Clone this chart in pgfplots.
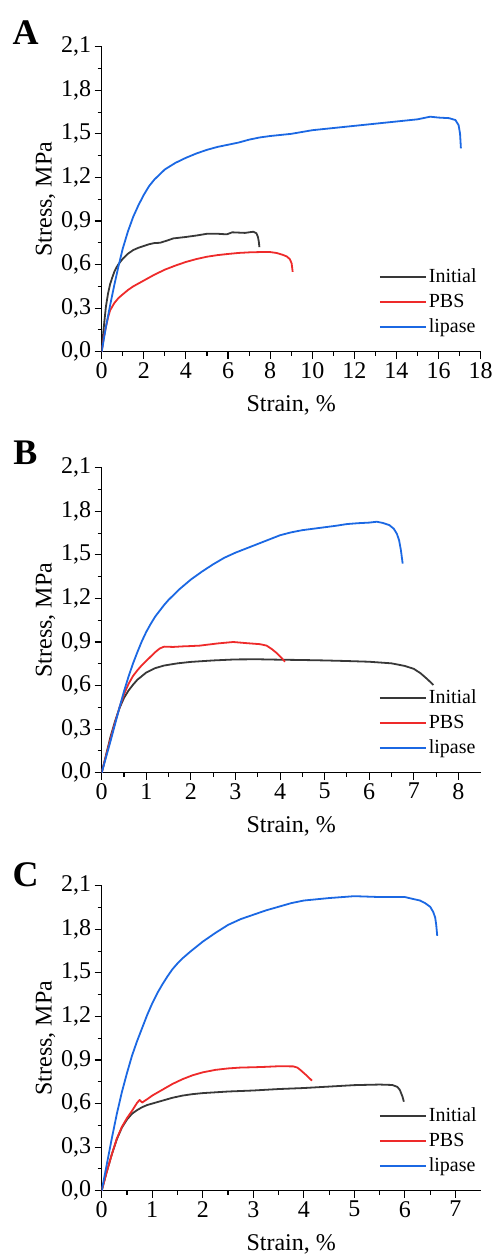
\documentclass[border=0pt]{standalone}
\usepackage{fontspec}
\setmainfont{Liberation Serif}
\usepackage{pgfplots}
\pgfplotsset{compat=1.18}
\definecolor{cInit}{HTML}{383838}
\definecolor{cPBS}{HTML}{EE2A2A}
\definecolor{cLip}{HTML}{1B68E3}
\pgfplotsset{
  panel/.style={
    scale only axis, width=379pt, height=305pt,
    anchor=south west,
    axis x line*=bottom, axis y line*=left,
    axis line style={line width=1.3pt, black},
    enlargelimits=false,
    ymin=0, ymax=2.1, ytick={0,0.3,...,2.1},
    minor y tick num=1, minor x tick num=1,
    tick align=outside,
    major tick length=7pt, minor tick length=4pt,
    every tick/.style={black, line width=1.1pt},
    tick label style={font=\fontsize{24}{28}\selectfont},
    label style={font=\fontsize{24}{28}\selectfont},
    xlabel style={yshift=-10pt},
    ylabel style={yshift=-1pt},
    /pgf/number format/assume math mode=true,
    yticklabel style={/pgf/number format/.cd, use comma, fixed, fixed zerofill, precision=1},
    xticklabel style={/pgf/number format/.cd, fixed, precision=0},
    xlabel={Strain, \%}, ylabel={Stress, MPa},
    legend style={draw=none, fill=none, at={(axis description cs:1.003,0.035)}, anchor=south east,
      font=\fontsize{20}{24}\selectfont,
      nodes={text height=15pt, text depth=4pt, inner sep=2pt},
      row sep=2pt},
    legend cell align=left,
    legend image code/.code={\draw[#1] (0pt,0pt) -- (46pt,0pt);},
    every axis plot/.append style={line width=1.8pt, line join=round},
  }
}
\begin{document}
\begin{tikzpicture}
\path[use as bounding box] (0,0) rectangle (496pt,-1255pt);
\node[font=\bfseries\fontsize{36}{40}\selectfont] at (25.5pt,-33pt) {A};
\node[font=\bfseries\fontsize{36}{40}\selectfont] at (25.5pt,-453pt) {B};
\node[font=\bfseries\fontsize{36}{40}\selectfont] at (25.5pt,-875pt) {C};
% Panel A
\begin{axis}[panel, at={(101.7pt,-351.7pt)}, xmin=0, xmax=18, xtick={0,2,...,18}]
\addplot[cInit] coordinates {(0,0) (0.05,0.09) (0.1,0.17) (0.2,0.31) (0.3,0.4) (0.4,0.465) (0.5,0.51) (0.6,0.55) (0.7,0.58) (0.8,0.603) (1.0,0.64) (1.25,0.675) (1.5,0.70) (1.75,0.716) (2.0,0.728) (2.25,0.74) (2.5,0.748) (2.77,0.75) (3.1,0.765) (3.4,0.78) (4.0,0.79) (4.5,0.80) (5.0,0.812) (5.5,0.812) (5.94,0.808) (6.2,0.822) (6.5,0.82) (6.8,0.818) (7.2,0.826) (7.35,0.815) (7.42,0.79) (7.46,0.76) (7.49,0.72)};
\addlegendentry{Initial}
\addplot[cPBS] coordinates {(0,0) (0.1,0.1) (0.2,0.17) (0.3,0.235) (0.4,0.285) (0.6,0.335) (0.8,0.37) (1.0,0.395) (1.25,0.425) (1.5,0.45) (2.0,0.49) (2.5,0.53) (3.0,0.565) (3.5,0.593) (4.0,0.618) (4.5,0.638) (5.0,0.654) (5.5,0.665) (6.0,0.673) (6.5,0.68) (7.0,0.684) (7.5,0.686) (8.0,0.686) (8.3,0.68) (8.6,0.667) (8.8,0.655) (8.94,0.636) (9.02,0.608) (9.07,0.55)};
\addlegendentry{PBS}
\addplot[cLip] coordinates {(0,0) (0.2,0.17) (0.4,0.32) (0.6,0.46) (0.8,0.59) (1.0,0.71) (1.25,0.83) (1.5,0.93) (1.75,1.01) (2.0,1.08) (2.25,1.14) (2.5,1.185) (2.75,1.22) (3.0,1.255) (3.5,1.30) (4.0,1.335) (4.5,1.365) (5.0,1.39) (5.5,1.41) (6.0,1.425) (6.5,1.44) (7.0,1.46) (7.5,1.475) (8.0,1.485) (9.0,1.50) (10.0,1.525) (11.0,1.54) (12.0,1.555) (13.0,1.57) (14.0,1.585) (15.0,1.60) (15.6,1.618) (16.0,1.612) (16.5,1.608) (16.8,1.595) (16.95,1.56) (17.02,1.50) (17.06,1.40)};
\addlegendentry{lipase}
\end{axis}
% Panel B
\begin{axis}[panel, at={(101.7pt,-772.7pt)}, xmin=0, xmax=8.5, xtick={0,1,...,8}]
\addplot[cInit] coordinates {(0,0) (0.1,0.125) (0.2,0.25) (0.3,0.355) (0.4,0.445) (0.5,0.515) (0.6,0.565) (0.7,0.605) (0.8,0.64) (0.9,0.665) (1.0,0.69) (1.2,0.72) (1.4,0.738) (1.7,0.753) (2.0,0.763) (2.5,0.773) (3.0,0.78) (3.5,0.781) (4.0,0.778) (4.5,0.776) (5.0,0.773) (5.5,0.769) (6.0,0.764) (6.5,0.753) (6.8,0.735) (7.0,0.715) (7.15,0.685) (7.3,0.645) (7.44,0.604)};
\addlegendentry{Initial}
\addplot[cPBS] coordinates {(0,0) (0.1,0.12) (0.2,0.235) (0.3,0.345) (0.4,0.45) (0.5,0.54) (0.6,0.61) (0.7,0.665) (0.8,0.705) (0.9,0.74) (1.0,0.77) (1.1,0.80) (1.2,0.83) (1.3,0.855) (1.4,0.868) (1.6,0.866) (1.83,0.87) (2.0,0.872) (2.2,0.875) (2.6,0.89) (2.95,0.90) (3.25,0.892) (3.55,0.885) (3.7,0.875) (3.82,0.85) (3.92,0.825) (4.02,0.795) (4.11,0.764)};
\addlegendentry{PBS}
\addplot[cLip] coordinates {(0,0) (0.1,0.11) (0.2,0.22) (0.3,0.335) (0.4,0.45) (0.5,0.56) (0.6,0.66) (0.7,0.75) (0.8,0.83) (0.9,0.905) (1.0,0.97) (1.1,1.025) (1.2,1.075) (1.3,1.115) (1.4,1.155) (1.5,1.19) (1.75,1.265) (2.0,1.33) (2.25,1.385) (2.5,1.435) (2.75,1.48) (3.0,1.515) (3.25,1.545) (3.5,1.575) (3.75,1.605) (4.0,1.635) (4.25,1.655) (4.5,1.67) (4.75,1.68) (5.0,1.69) (5.25,1.70) (5.5,1.712) (5.75,1.718) (6.0,1.722) (6.17,1.728) (6.3,1.72) (6.45,1.705) (6.55,1.68) (6.62,1.645) (6.67,1.60) (6.71,1.533) (6.75,1.44)};
\addlegendentry{lipase}
\end{axis}
% Panel C
\begin{axis}[panel, at={(101.7pt,-1190.7pt)}, xmin=0, xmax=7.5, xtick={0,1,...,7}]
\addplot[cInit] coordinates {(0,0) (0.1,0.13) (0.2,0.25) (0.3,0.355) (0.4,0.435) (0.5,0.49) (0.6,0.53) (0.7,0.555) (0.8,0.575) (0.9,0.59) (1.0,0.60) (1.2,0.62) (1.4,0.64) (1.6,0.655) (1.8,0.665) (2.0,0.672) (2.5,0.683) (3.0,0.69) (3.5,0.70) (4.0,0.707) (4.5,0.717) (5.0,0.727) (5.5,0.731) (5.75,0.728) (5.85,0.715) (5.9,0.694) (5.95,0.65) (5.98,0.613)};
\addlegendentry{Initial}
\addplot[cPBS] coordinates {(0,0) (0.1,0.13) (0.2,0.25) (0.3,0.36) (0.4,0.44) (0.5,0.50) (0.6,0.55) (0.7,0.605) (0.75,0.625) (0.8,0.607) (0.9,0.63) (1.0,0.655) (1.2,0.695) (1.4,0.735) (1.6,0.768) (1.8,0.795) (2.0,0.815) (2.25,0.832) (2.5,0.842) (2.75,0.848) (3.0,0.85) (3.25,0.853) (3.5,0.857) (3.79,0.856) (3.87,0.848) (3.93,0.832) (4.05,0.795) (4.16,0.758)};
\addlegendentry{PBS}
\addplot[cLip] coordinates {(0,0) (0.1,0.18) (0.2,0.36) (0.3,0.53) (0.4,0.68) (0.5,0.81) (0.6,0.93) (0.7,1.03) (0.8,1.12) (0.9,1.21) (1.0,1.29) (1.1,1.36) (1.2,1.42) (1.3,1.475) (1.4,1.525) (1.5,1.565) (1.6,1.60) (1.75,1.645) (2.0,1.715) (2.25,1.775) (2.5,1.83) (2.75,1.87) (3.0,1.90) (3.25,1.93) (3.5,1.955) (3.75,1.98) (4.0,1.998) (4.5,2.015) (5.0,2.028) (5.5,2.022) (6.0,2.022) (6.17,2.008) (6.3,1.998) (6.4,1.98) (6.5,1.955) (6.56,1.92) (6.6,1.88) (6.62,1.83) (6.64,1.755)};
\addlegendentry{lipase}
\end{axis}
\end{tikzpicture}
\end{document}
